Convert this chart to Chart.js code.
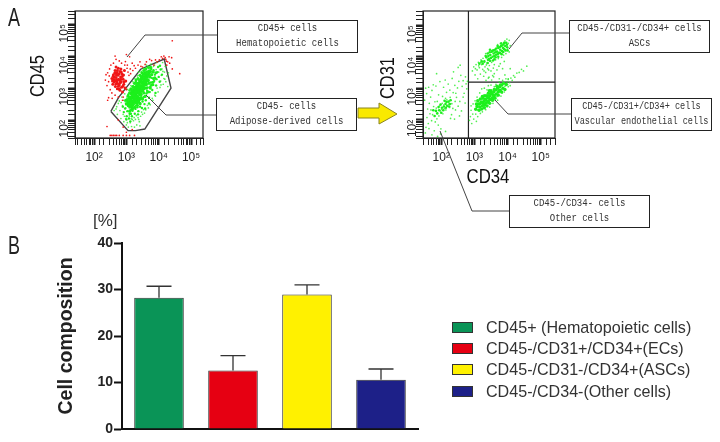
<!DOCTYPE html>
<html>
<head>
<meta charset="utf-8">
<script src="https://cdn.jsdelivr.net/npm/chart.js@4"></script>
<style>
  html, body { margin: 0; padding: 0; background: #fff; }
  #page { position: relative; width: 720px; height: 442px; overflow: hidden; font-family: "Liberation Sans", sans-serif; color: #222; }
  canvas { position: absolute; }
  .callout { position: absolute; box-sizing: border-box; width: 141px; height: 33px; border: 1.5px solid #222; background: #fff;
    font: 11px/15px "Liberation Mono", monospace; text-align: center; color: #333; }
  .callout span { display: block; margin: 0 -40px; white-space: pre; transform: scaleX(.82); }
  .panel { position: absolute; left: 8px; font: 25px/29px "Liberation Sans", sans-serif; transform: scaleX(.72); transform-origin: left center; }
  .axis-name { position: absolute; width: 80px; height: 24px; margin: -12px 0 0 -40px; text-align: center; color: #111; font: 20px/24px "Liberation Sans", sans-serif; }
  .unit { position: absolute; left: 93px; top: 211px; font: 17px "Liberation Sans", sans-serif; color: #333; }
  .legend-row { position: absolute; left: 452px; height: 11px; white-space: nowrap; }
  .legend-row i { position: absolute; left: 0; top: 0; width: 21px; height: 11px; box-sizing: border-box; border: 1px solid #333; }
  .legend-row span { position: absolute; left: 34px; top: -4px; font: 16.1px/18px "Liberation Sans", sans-serif; color: #333; }
  svg { position: absolute; left: 0; top: 0; }
</style>
</head>
<body>
<div id="page">
  <canvas id="flow45" style="left:0;top:0"></canvas>
  <canvas id="flow31" style="left:360px;top:0"></canvas>
  <canvas id="bars" style="left:0;top:215px"></canvas>
  <svg width="720" height="442">
    <g fill="none" stroke="#444" stroke-width="1">
      <polyline points="218,35 145,35 127,57"/>
      <polyline points="216,115 166,115 146,95"/>
      <polyline points="569,33 522,33 509,49"/>
      <polyline points="571,114 508,114 495,100"/>
      <polyline points="509,211 472,211 440,131"/>
    </g>
    <polygon points="358,108 379,108 379,103 397,114 379,124 379,118 358,118" fill="#f9e900" stroke="#8a8420" stroke-width="1"/>
  </svg>
  <div class="panel" style="top:3px">A</div>
  <div class="panel" style="top:231px">B</div>
  <div class="unit">[%]</div>
  <div class="axis-name" style="left:37px;top:76px;transform:rotate(-90deg) scaleX(.82)">CD45</div>
  <div class="axis-name" style="left:387px;top:78px;transform:rotate(-90deg) scaleX(.82)">CD31</div>
  <div class="axis-name" style="left:488px;top:176px;transform:scaleX(.84)">CD34</div>
  <div id="legend"></div>
</div>

<script>
// -------- Panel B : cell composition --------
const categories = ['CD45+ (Hematopoietic cells)', 'CD45-/CD31+/CD34+(ECs)', 'CD45-/CD31-/CD34+(ASCs)', 'CD45-/CD34-(Other cells)'];
const composition = [28.2, 12.6, 28.9, 10.6];
const compositionTop = [30.7, 15.8, 31.0, 12.9];
const barColors = ['#0a9457', '#e60012', '#fff100', '#1d2088'];

// -------- Panel A : callouts --------
const callouts = [
  { left: 217, top: 20, lines: ['CD45+ cells', 'Hematopoietic cells'] },
  { left: 216, top: 98, lines: ['CD45- cells', 'Adipose-derived cells'] },
  { left: 569, top: 20, lines: ['CD45-/CD31-/CD34+ cells', 'ASCs'] },
  { left: 571, top: 98, lines: ['CD45-/CD31+/CD34+ cells', 'Vascular endothelial cells'], squeeze: 0.78 },
  { left: 509, top: 195, lines: ['CD45-/CD34- cells', 'Other cells'] }
];

// -------- Panel A : axes (log10 exponents) --------
const decadeLabels = { 2: '10²', 3: '10³', 4: '10⁴', 5: '10⁵' };

// gate around the CD45- population
const gate45 = [[2.52,2.27],[3.05,1.67],[3.28,1.67],[3.57,1.72],[4.38,3.0],[4.17,3.91],[3.44,3.59],[2.76,2.71],[2.52,2.27]];
// quadrant lines
const quadV = [[2.82,1.42],[2.82,5.45]];
const quadH = [[2.82,3.19],[5.43,3.19]];

const redCore = [
  [2.55,3.3],[2.58,3.12],[2.6,3.42],[2.62,3.2],[2.65,3.55],[2.66,3.05],[2.68,3.33],[2.7,3.48],[2.7,3.2],[2.72,2.98],
  [2.74,3.4],[2.75,3.62],[2.76,3.28],[2.78,3.1],[2.8,3.52],[2.8,2.93],[2.82,3.35],[2.84,3.2],[2.85,3.03],[2.86,3.44],
  [2.88,2.88],[2.9,3.28],[2.92,3.12],[2.94,3.55],[2.96,3.0],[2.63,3.34],[2.73,3.14],[2.83,3.6],[2.98,3.22],[2.68,3.66],
  [2.59,3.37],[2.71,3.26],[2.77,3.45],[2.67,3.13],[2.81,3.17],[2.64,3.47],[2.87,3.36],[2.79,3.24],[2.69,3.41],[2.75,3.06],
  [2.91,3.41],[2.61,3.27],[2.84,3.5],[2.72,3.55],[2.57,3.22],[2.93,3.2],[2.78,2.98],[2.89,3.06],[2.66,3.24],[2.83,3.28]
];
const redSparse = [
  [2.35,3.25],[2.4,3.08],[2.42,3.48],[2.45,3.2],[2.48,3.6],[2.5,2.95],[2.47,3.38],[2.52,3.72],[2.55,2.85],[2.6,3.78],
  [2.65,2.78],[2.68,3.9],[2.75,2.72],[2.78,3.85],[2.85,3.78],[2.9,2.72],[2.95,3.72],[3.0,2.95],[3.02,3.62],[3.08,3.4],
  [3.05,3.5],[3.12,3.6],[3.18,3.78],[3.2,3.55],[3.28,3.62],[3.36,3.72],[3.42,3.82],[3.5,3.66],[3.62,3.82],[3.72,3.9],
  [3.85,3.72],[3.95,3.82],[4.02,3.88],[4.08,3.98],[4.16,4.0],[4.22,3.9],[4.25,3.72],[4.28,3.82],[4.32,3.98],[4.4,3.95],
  [4.42,3.6],[4.65,3.45],[4.42,4.48],[3.1,3.98],[3.0,4.05],[2.65,4.0],[2.45,2.7],[2.42,2.62],[2.4,1.8],[2.75,2.0],
  [2.5,1.52],[2.55,1.52],[2.6,1.52],[2.65,1.52],[2.7,1.52],[2.78,1.52],[2.9,1.52],[3.0,1.52],[3.1,1.52],[3.25,1.52],
  [3.0,1.62],[3.18,1.7],[2.9,1.78],[2.88,2.62],[3.03,3.72],[3.13,3.45],[2.97,3.83],[3.24,3.7],[2.37,3.42],[2.56,2.68],
  [3.45,3.68],[3.58,3.74],[3.78,3.86],[3.9,3.88],[4.12,3.93],[4.2,3.95],[4.24,3.84],[4.34,3.78]
];
const greenCore = [
  [3.08,2.5],[3.12,2.42],[3.06,2.58],[3.15,2.6],[3.11,2.68],[3.18,2.47],[3.2,2.72],[3.17,2.83],[3.23,2.58],[3.26,2.66],
  [3.22,2.9],[3.28,2.8],[3.31,2.56],[3.3,2.96],[3.34,2.72],[3.36,2.88],[3.33,3.06],[3.39,2.66],[3.41,2.98],[3.38,3.14],
  [3.44,2.8],[3.46,3.05],[3.43,3.22],[3.49,2.92],[3.5,3.18],[3.48,3.31],[3.54,3.0],[3.56,3.26],[3.53,3.4],[3.6,3.12],
  [3.62,3.35],[3.58,3.46],[3.66,3.24],[3.68,3.42],[3.72,3.52],[3.25,2.74],[3.35,2.6],[3.4,2.85],[3.45,2.93],[3.52,3.1],
  [3.58,3.2],[3.29,2.88],[3.21,2.8],[3.14,2.53],[3.37,3.0]
];
const greenWide = [
  [3.05,2.75],[3.1,2.85],[3.14,2.98],[3.2,3.05],[3.25,3.15],[3.3,3.25],[3.36,3.3],[3.42,3.4],[3.48,3.48],[3.54,3.55],
  [3.6,3.6],[3.68,3.65],[3.75,3.65],[3.1,2.28],[3.18,2.34],[3.26,2.4],[3.34,2.46],[3.42,2.52],[3.5,2.66],[3.58,2.74],
  [3.66,2.88],[3.74,3.0],[3.82,3.18],[3.88,3.32],[3.92,3.48],[3.82,3.5],[3.0,2.5],[2.98,2.62],[3.12,2.72],[3.18,2.95],
  [3.26,3.02],[3.32,3.14],[3.4,3.1],[3.46,3.2],[3.56,3.36],[3.64,3.46],[3.72,3.35],[3.78,3.42],[3.7,3.15],[3.62,3.0],
  [3.54,2.85],[3.46,2.7],[3.38,2.56],[3.3,2.64],[3.22,2.5],[3.78,3.1],[3.84,3.3]
];
const greenMid = [
  [3.01,2.12],[3.03,2.28],[3.05,2.44],[3.08,2.05],[3.1,2.2],[3.13,2.31],[3.15,2.72],[3.17,2.12],[3.19,2.29],[3.16,2.9],
  [3.2,2.38],[3.24,2.97],[3.26,2.2],[3.28,2.35],[3.3,2.46],[3.33,3.12],[3.37,2.28],[3.4,3.25],[3.43,2.5],[3.42,2.42],
  [3.46,3.36],[3.48,2.38],[3.5,2.58],[3.52,3.45],[3.54,2.72],[3.56,2.5],[3.6,2.62],[3.58,3.58],[3.62,2.83],[3.64,2.92],
  [3.66,3.02],[3.64,3.52],[3.7,2.7],[3.72,2.88],[3.74,3.05],[3.76,3.18],[3.78,3.32],[3.8,2.94],[3.77,3.6],[3.83,3.1],
  [3.86,3.22],[3.88,3.42],[3.84,3.56],[3.92,3.08],[3.93,3.28],[3.96,3.5],[4.0,3.35],[3.98,3.66],[4.03,3.2],[4.06,3.58],
  [2.96,2.36],[2.99,2.52],[3.02,2.65],[3.06,2.8],[3.1,2.93],[3.14,2.2],[3.21,3.05],[3.29,3.2],[3.34,2.4],[3.45,2.66],
  [2.92,2.25],[2.89,2.42],[3.0,2.02],[3.12,1.96],[3.36,2.18],[3.58,2.36],[3.7,2.52],[3.9,2.85],[4.1,3.42],[4.04,3.7]
];
const greenSparse = [
  [2.62,2.3],[2.7,2.42],[2.72,2.18],[2.78,2.6],[2.8,2.3],[2.83,2.05],[2.86,2.72],[2.88,2.45],[2.9,2.18],[2.92,1.95],
  [2.95,2.82],[2.96,2.58],[2.98,2.38],[3.0,1.85],[3.02,2.72],[3.04,2.96],[3.06,1.78],[3.08,2.62],[3.1,2.86],[3.12,1.92],
  [3.14,3.08],[3.16,1.8],[3.18,2.95],[3.2,3.2],[3.22,1.98],[3.26,3.3],[3.28,2.02],[3.3,3.12],[3.32,1.85],[3.34,3.38],
  [3.36,2.08],[3.38,3.5],[3.4,1.95],[3.42,3.25],[3.44,2.12],[3.46,3.52],[3.5,2.18],[3.52,3.62],[3.54,3.4],[3.56,2.22],
  [3.58,3.52],[3.6,2.32],[3.62,3.72],[3.64,3.48],[3.68,2.38],[3.7,3.62],[3.72,3.42],[3.74,2.48],[3.76,3.75],[3.78,3.52],
  [3.82,2.62],[3.84,3.68],[3.86,3.5],[3.9,2.75],[3.92,3.58],[3.94,3.8],[3.98,2.88],[4.0,3.5],[4.02,3.68],[4.04,3.02],
  [4.06,3.22],[4.08,3.4],[4.1,3.6],[4.12,3.8],[4.14,3.12],[4.16,3.3],[4.18,3.5],[4.2,3.68],[4.22,3.2],[4.25,3.38],
  [4.28,3.05],[4.3,3.48],[3.42,1.82],[3.18,2.02],[2.98,2.05],[2.75,2.52],[2.68,2.35],[3.25,1.78],
  [2.84,2.55],[2.91,2.62],[2.94,2.12],[3.03,1.92],[3.09,2.13],[3.15,2.04],[3.24,2.08],[3.31,2.14],[3.38,2.02],[3.47,2.25],
  [3.53,2.33],[3.65,2.46],[3.8,2.68],[3.88,2.78],[3.95,3.0],[4.07,3.1],[4.13,3.52],[4.19,3.28],[3.87,3.72],[3.69,3.68]
];
const ascCore = [
  [3.36,3.98],[3.4,4.1],[3.44,3.93],[3.48,4.05],[3.52,4.16],[3.55,4.0],[3.58,4.1],[3.62,4.22],[3.65,4.06],[3.68,4.16],
  [3.72,4.28],[3.74,4.12],[3.78,4.22],[3.8,4.34],[3.83,4.18],[3.86,4.28],[3.88,4.4],[3.9,4.24],[3.93,4.34],[3.96,4.44],
  [3.5,3.96],[3.46,4.14],[3.6,4.02],[3.7,4.08],[3.76,4.3],[3.84,4.36],[3.57,4.2],[3.41,3.9],[3.99,4.3],[3.66,4.26],
  [3.3,3.85],[3.34,4.02],[3.42,4.02],[3.47,3.87],[3.54,4.18],[3.6,3.92],[3.63,4.14],[3.72,4.0],[3.77,4.12],[3.7,4.34],
  [3.82,4.08],[3.87,4.15],[3.9,4.44],[3.94,4.2],[3.8,4.42],[3.98,4.38],[4.0,4.2],[3.56,3.88],[3.47,4.22],[3.25,3.78],
  [3.22,3.85],[3.15,3.78],[3.64,3.98],[3.4,3.8]
];
const ascSparse = [
  [2.94,3.55],[2.98,3.68],[3.02,3.42],[3.05,3.75],[3.08,3.58],[3.1,3.3],[3.12,3.82],[3.15,3.65],[3.18,3.45],[3.2,3.9],
  [3.22,3.75],[3.25,3.6],[3.28,3.38],[3.3,3.82],[3.32,3.68],[3.34,3.5],[3.38,3.8],[3.4,3.62],[3.42,3.32],[3.45,3.72],
  [3.5,3.55],[3.52,3.82],[3.55,3.4],[3.6,3.75],[3.64,3.9],[3.68,3.58],[3.72,3.94],[3.75,3.3],[3.78,3.78],[3.82,3.98],
  [3.85,3.62],[3.88,4.05],[3.92,3.42],[3.95,4.1],[4.0,4.28],[4.02,4.42],[4.05,4.52],[3.98,4.56],[3.92,4.5],[3.82,4.44],
  [3.7,4.38],[3.6,3.46],[4.02,3.3],[4.08,3.62],[3.58,3.36],[3.35,3.25],[3.26,3.95],[3.13,3.71],[3.36,3.74],[3.48,3.86],
  [3.03,3.62],[3.19,3.82],[3.29,3.55],[3.43,3.58],[3.57,3.64],[3.74,3.7],[3.9,3.85],[4.05,4.15],[4.08,4.35],[3.34,4.1]
];
const ecCore = [
  [3.08,2.42],[3.12,2.5],[3.16,2.4],[3.2,2.56],[3.24,2.44],[3.28,2.58],[3.31,2.47],[3.33,2.65],[3.36,2.53],[3.4,2.7],
  [3.42,2.58],[3.46,2.76],[3.48,2.64],[3.52,2.82],[3.54,2.7],[3.58,2.88],[3.6,2.76],[3.64,2.94],[3.66,2.82],[3.7,3.0],
  [3.72,2.88],[3.76,3.05],[3.78,2.94],[3.82,3.1],[3.86,3.0],[3.38,2.76],[3.5,2.92],[3.26,2.68],[3.44,2.68],[3.56,2.79],
  [3.04,2.33],[3.06,2.5],[3.1,2.6],[3.14,2.3],[3.18,2.66],[3.22,2.34],[3.24,2.74],[3.3,2.38],[3.32,2.76],[3.38,2.44],
  [3.42,2.84],[3.46,2.52],[3.5,2.84],[3.55,2.62],[3.6,2.96],[3.62,2.68],[3.68,3.06],[3.72,2.78],[3.78,3.1],[3.82,2.88],
  [3.88,3.16],[3.92,2.96],[3.96,3.12],[3.45,2.92],[3.35,2.62],[3.28,2.5],[3.58,2.7],[3.74,2.92],[3.16,2.5],[3.22,2.54]
];
const ecSparse = [
  [2.85,1.98],[2.88,2.1],[2.9,2.3],[2.92,1.88],[2.95,2.18],[2.96,2.5],[2.98,2.02],[3.02,2.6],[3.04,2.18],[3.06,1.95],
  [3.08,2.72],[3.1,2.1],[3.14,2.62],[3.16,2.85],[3.18,2.2],[3.22,2.98],[3.24,2.25],[3.28,2.78],[3.3,3.0],[3.34,2.32],
  [3.38,2.95],[3.42,3.08],[3.46,2.4],[3.5,3.1],[3.56,2.52],[3.6,3.05],[3.65,3.12],[3.7,2.62],[3.75,3.2],[3.8,2.75],
  [3.85,3.25],[3.9,2.88],[3.98,3.2],[4.02,3.28],[4.06,3.18],[4.1,3.32],[4.14,3.25],[4.18,3.4],[4.22,3.35],[4.28,3.48],
  [4.35,3.5],[4.42,3.6],[4.48,3.55],[4.58,3.7],[4.02,3.05],[3.52,3.26],[3.44,3.35],[2.9,2.44],[3.01,2.34],[3.11,2.32],
  [3.26,2.36],[3.39,2.42],[3.53,2.6],[3.68,2.74],[3.84,2.85],[3.92,3.06],[4.0,3.12],[4.08,3.08],[3.95,3.3],[3.88,3.12]
];
const otherPatch = [
  [2.02,2.38],[2.08,2.42],[2.13,2.5],[2.18,2.44],[2.22,2.58],[2.26,2.5],[2.06,2.3],[2.0,2.22],[1.94,2.3],[1.88,2.2],
  [1.84,2.28],[1.92,2.4],[2.16,2.56],[2.1,2.6],[2.28,2.62],[2.24,2.42],[1.8,2.12],[1.76,2.3],[1.98,2.48],[2.14,2.38]
];
const otherCells = [
  [1.52,1.58],[1.88,2.58],[1.57,2.07],[2.14,2.31],[1.63,1.72],[2.22,2.55],[1.74,2.16],[1.95,2.44],[1.61,1.88],[2.08,2.47],
  [1.82,1.93],[2.29,2.62],[1.69,2.31],[2.01,2.33],[1.79,1.65],[2.17,2.63],[1.93,2.12],[2.25,2.39],[1.54,1.76],[2.11,2.58],
  [1.85,2.37],[2.05,2.19],[1.71,1.97],[2.32,2.51],[1.97,2.28],[2.19,2.43],[1.66,2.19],[1.91,1.83],[2.27,2.71],[2.03,2.52],
  [1.77,2.42],[2.13,2.68],[1.59,2.34],[2.35,2.36],[1.87,2.03],[2.23,2.49],[1.99,1.71],[2.09,2.35],[2.42,2.58],[2.31,2.16],
  [1.5,2.62],[1.53,3.0],[1.56,2.83],[1.62,3.03],[1.68,2.72],[1.72,2.93],[1.76,3.11],[1.81,2.57],[1.84,3.07],[1.92,2.79],
  [1.96,3.21],[2.04,2.74],[2.07,3.03],[2.12,3.26],[2.16,2.87],[2.21,3.13],[2.26,2.94],[2.33,3.31],[2.36,2.86],[2.41,3.09],
  [2.46,2.71],[2.49,3.01],[2.51,2.43],[2.53,3.22],[2.56,2.58],[2.59,3.41],[2.63,3.06],[2.66,3.24],[2.69,2.84],[2.73,3.36],
  [2.75,3.14],[2.79,3.22],[2.51,3.66],[2.57,3.73],[1.86,3.46],[2.37,3.52],[2.61,2.28],[2.72,2.53],[2.43,2.31],[2.28,2.04],
  [1.98,1.55],[2.13,1.63],[1.72,1.52],[1.89,1.47],[2.4,2.02],[2.55,2.12],[2.66,2.72],[2.44,2.84],[2.77,2.98],[1.64,2.52]
];

// les valeurs sont des exposants log10, l'axe est logarithmique
const toPoints = list => list.map(p => ({ x: Math.pow(10, p[0]), y: Math.pow(10, p[1]) }));

const dots = (list, color, radius) => ({ data: toPoints(list), showLine: false, pointRadius: radius, pointBorderWidth: 0, pointBackgroundColor: color });
const outline = (list, color, width) => ({ data: toPoints(list), showLine: true, pointRadius: 0, borderColor: color, borderWidth: width, fill: false });

const redDot = '#f01616';
const greenDot = '#1cf01c';
const greenFaint = 'rgba(40,235,40,0.8)';

// cadre complet autour de la zone de tracé
const plotFrame = {
  id: 'plotFrame',
  afterDraw(chart) {
    const { ctx, chartArea: a } = chart;
    ctx.save();
    ctx.strokeStyle = '#222';
    ctx.lineWidth = 1.2;
    ctx.strokeRect(a.left, a.top, a.right - a.left, a.bottom - a.top);
    ctx.restore();
  }
};

function logAxis(min, max, size, ticksExtra) {
  return {
    type: 'logarithmic',
    min: Math.pow(10, min),
    max: Math.pow(10, max),
    afterFit: scale => { if (scale.isHorizontal()) scale.height = size; else scale.width = size; },
    grid: { drawOnChartArea: false, tickLength: 7, tickColor: '#222', tickWidth: ctx => Number.isInteger(Math.round(Math.log10(ctx.tick.value) * 1000) / 1000) ? 2 : 1 },
    border: { color: '#222', width: 1 },
    ticks: Object.assign({
      autoSkip: false,
      color: '#222',
      font: { family: '"Liberation Sans", sans-serif', size: 12 },
      callback: value => {
        const exponent = Math.round(Math.log10(value) * 1000) / 1000;
        return decadeLabels[exponent] || '';
      }
    }, ticksExtra)
  };
}

function flowChart(id, width, height, datasets, padding, x, y) {
  const canvas = document.getElementById(id);
  canvas.width = width;
  canvas.height = height;
  canvas.style.width = width + 'px';
  canvas.style.height = height + 'px';
  return new Chart(canvas, {
    type: 'scatter',
    data: { datasets },
    options: {
      responsive: false,
      animation: false,
      layout: { padding },
      plugins: { legend: { display: false }, tooltip: { enabled: false } },
      scales: { x, y }
    },
    plugins: [plotFrame]
  });
}

const xTicks = { minRotation: 0, maxRotation: 0, padding: 5 };
const yTicks = { minRotation: 90, padding: 3 };

flowChart('flow45', 215, 175,
  [dots(redSparse, redDot, 0.85), dots(redCore, redDot, 1.5), dots(greenSparse, greenFaint, 0.85), dots(greenMid, greenDot, 1.2), dots(greenWide, greenDot, 1.6), dots(greenCore, greenDot, 2.2), outline(gate45, '#444', 1.4)],
  { top: 11, right: 12 },
  logAxis(1.41, 5.37, 37, xTicks),
  logAxis(1.44, 5.41, 75, yTicks)
);

flowChart('flow31', 200, 175,
  [dots(otherCells, greenFaint, 0.85), dots(otherPatch, greenDot, 1.3), dots(ascSparse, greenFaint, 0.85), dots(ascCore, greenDot, 1.3), dots(ecSparse, greenFaint, 0.85), dots(ecCore, greenDot, 1.7), outline(quadV, '#222', 1.2), outline(quadH, '#222', 1.2)],
  { top: 11, right: 4 },
  logAxis(1.45, 5.43, 37, xTicks),
  logAxis(1.42, 5.45, 63, yTicks)
);

// -------- Barres avec erreur (haut seulement) --------
const errorBars = {
  id: 'errorBars',
  afterDatasetsDraw(chart) {
    const { ctx, scales } = chart;
    const meta = chart.getDatasetMeta(0);
    ctx.save();
    ctx.strokeStyle = '#333';
    ctx.lineWidth = 1.3;
    compositionTop.forEach((top, i) => {
      const x = meta.data[i].x;
      const y0 = scales.y.getPixelForValue(composition[i]);
      const y1 = scales.y.getPixelForValue(top);
      ctx.beginPath();
      ctx.moveTo(x, y0);
      ctx.lineTo(x, y1);
      ctx.moveTo(x - 12.5, y1);
      ctx.lineTo(x + 12.5, y1);
      ctx.stroke();
    });
    ctx.restore();
  }
};

const barCanvas = document.getElementById('bars');
barCanvas.width = 420;
barCanvas.height = 227;
barCanvas.style.width = '420px';
barCanvas.style.height = '227px';
new Chart(barCanvas, {
  type: 'bar',
  data: {
    labels: categories,
    datasets: [{
      data: composition,
      backgroundColor: barColors,
      borderColor: '#333',
      borderWidth: 1,
      barPercentage: 0.67,
      categoryPercentage: 1
    }]
  },
  options: {
    responsive: false,
    animation: false,
    layout: { padding: { top: 28, bottom: 13, right: 2 } },
    plugins: { legend: { display: false }, tooltip: { enabled: false } },
    scales: {
      x: {
        afterFit: scale => { scale.height = 0; },
        grid: { display: false, drawTicks: false },
        border: { color: '#111', width: 2 },
        ticks: { display: false }
      },
      y: {
        min: 0,
        max: 40,
        afterFit: scale => { scale.width = 122; },
        grid: { drawOnChartArea: false, tickLength: 8, tickColor: '#111', tickWidth: 2 },
        border: { color: '#111', width: 2 },
        ticks: { stepSize: 10, padding: 1, color: '#222', font: { family: '"Liberation Sans", sans-serif', size: 14, weight: 'bold' } },
        title: { display: true, text: 'Cell composition', color: '#222', padding: { top: 55, bottom: 0 }, font: { family: '"Liberation Sans", sans-serif', size: 19.5, weight: 'bold' } }
      }
    }
  },
  plugins: [errorBars]
});

// -------- Légende et encadrés en HTML --------
const page = document.getElementById('page');
categories.forEach((name, i) => {
  const row = document.createElement('div');
  row.className = 'legend-row';
  row.style.top = (322 + i * 21.2) + 'px';
  row.innerHTML = '<i></i><span></span>';
  row.querySelector('i').style.background = barColors[i];
  row.querySelector('span').textContent = name;
  page.appendChild(row);
});
callouts.forEach(c => {
  const box = document.createElement('div');
  box.className = 'callout';
  box.style.left = c.left + 'px';
  box.style.top = c.top + 'px';
  c.lines.forEach(line => {
    const span = document.createElement('span');
    span.textContent = line;
    if (c.squeeze) span.style.transform = 'scaleX(' + c.squeeze + ')';
    box.appendChild(span);
  });
  page.appendChild(box);
});
</script>
</body>
</html>
